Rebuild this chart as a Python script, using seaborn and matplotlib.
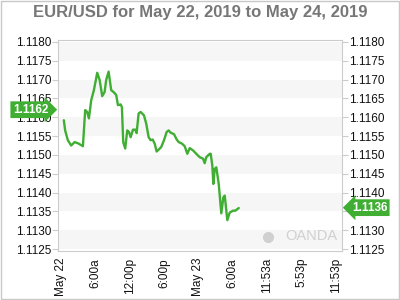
import matplotlib
matplotlib.use("Agg")
import matplotlib.pyplot as plt
import matplotlib.transforms as mtransforms
from matplotlib.patches import Rectangle
import seaborn as sns
import pandas as pd

# ---- data (hours since May 22 00:00, EUR/USD rate) ----
hours = [0.52, 0.75, 1.22, 1.80, 2.40, 2.97, 3.67, 3.85, 4.25, 4.60, 4.90, 5.30, 5.77,
         6.35, 6.77, 7.22, 7.64, 7.92, 8.34, 8.79, 9.27, 9.67, 9.97, 10.44, 10.66, 10.89,
         11.24, 11.59, 11.89, 12.19, 12.59, 12.99, 13.23, 13.58, 13.93, 14.51, 14.91, 15.33,
         15.68, 16.03, 16.38, 16.73, 17.08, 17.53, 18.01, 18.48, 18.83, 19.18, 19.76, 20.23,
         20.58, 21.15, 21.63, 22.08, 22.50, 23.08, 23.65, 24.25, 24.83, 25.12, 25.40, 26.00,
         26.17, 26.45, 26.63, 26.87, 27.15, 27.57, 28.02, 28.37, 28.62, 29.07, 29.49, 30.07,
         30.47, 31.07]
rates = [1.11592, 1.11565, 1.11539, 1.11525, 1.11534, 1.11531, 1.11525, 1.11523, 1.11619,
         1.11614, 1.11597, 1.11645, 1.11672, 1.11718, 1.11699, 1.11656, 1.11667, 1.11699,
         1.11721, 1.11672, 1.11666, 1.11659, 1.11632, 1.11634, 1.11627, 1.11534, 1.11517,
         1.11565, 1.11561, 1.11547, 1.11567, 1.11567, 1.11558, 1.11610, 1.11614, 1.11605,
         1.11583, 1.11547, 1.11539, 1.11541, 1.11530, 1.11509, 1.11514, 1.11521, 1.11539,
         1.11561, 1.11565, 1.11559, 1.11555, 1.11541, 1.11534, 1.11530, 1.11523, 1.11503,
         1.11518, 1.11512, 1.11503, 1.11494, 1.11490, 1.11478, 1.11494, 1.11503, 1.11503,
         1.11472, 1.11423, 1.11463, 1.11467, 1.11423, 1.11345, 1.11387, 1.11392, 1.11327,
         1.11347, 1.11352, 1.11352, 1.11359]

x_ticks = [0, 6, 12, 18, 24, 30, 36, 42, 48]
x_labels = ["May 22", "6:00a", "12:00p", "6:00p", "May 23", "6:00a", "11:53a", "5:53p", "11:53p"]
y_ticks = [1.1125, 1.1130, 1.1135, 1.1140, 1.1145, 1.1150, 1.1155, 1.1160, 1.1165,
           1.1170, 1.1175, 1.1180]
open_label = 1.1162
last_label = 1.1136
title = "EUR/USD for May 22, 2019 to May 24, 2019"

GREEN = "#3fae33"
GRID_GRAY = "#cccccc"
TEXT = "#111111"

sns.set_style("white")
plt.rcParams["font.family"] = ["Liberation Sans", "DejaVu Sans"]

fig = plt.figure(figsize=(4, 3), dpi=100)
ax = fig.add_axes([58 / 400, 1 - 251 / 300, 284 / 400, 211 / 300])

df = pd.DataFrame({"hour": hours, "rate": rates})

# alternating bands
for i in range(0, len(y_ticks) - 1, 2):
    ax.axhspan(y_ticks[i], y_ticks[i + 1], color="#f6f6f6", lw=0, zorder=0)

sns.lineplot(data=df, x="hour", y="rate", ax=ax, color=GREEN, lw=1.7, zorder=3)

ax.set_xlim(-0.5, 49.1)
ax.set_ylim(1.11245, 1.11805)
ax.set_xticks(x_ticks)
ax.set_xticklabels(x_labels, rotation=90, fontsize=8.5, color=TEXT)
ax.set_yticks(y_ticks)
ax.set_yticklabels([f"{v:.4f}" for v in y_ticks], fontsize=8.5, color=TEXT)
ax.tick_params(axis="y", which="both", left=True, right=True, labelleft=True,
               labelright=True, length=4, width=0.8, color=GRID_GRAY, pad=1)
ax.tick_params(axis="x", length=3, width=0.8, color=GRID_GRAY, pad=2)
ax.set_xlabel("")
ax.set_ylabel("")
for s in ax.spines.values():
    s.set_color(GRID_GRAY)
    s.set_linewidth(0.8)

# title
fig.text(0.5, 1 - 12 / 300, title, ha="center", va="center", fontsize=12,
         fontweight="bold", color="#777777")

# value labels
trans = mtransforms.blended_transform_factory(ax.transAxes, ax.transData)
ax.text(-0.097, open_label, f"{open_label:.4f}", transform=trans, ha="center", va="center",
        fontsize=8.5, fontweight="bold", color="white", zorder=5, clip_on=False,
        bbox=dict(boxstyle="rarrow,pad=0.2", fc=GREEN, ec="none"))
ax.text(1.097, last_label, f"{last_label:.4f}", transform=trans, ha="center", va="center",
        fontsize=8.5, fontweight="bold", color="white", zorder=5, clip_on=False,
        bbox=dict(boxstyle="larrow,pad=0.2", fc=GREEN, ec="none"))

# watermark
ax.text(0.985, 0.04, "OANDA", transform=ax.transAxes, ha="right", va="bottom",
        fontsize=10.5, color="#d0d0d0", zorder=1)
ax.plot([0.74], [0.067], marker="o", ms=7, color="#d0d0d0", transform=ax.transAxes,
        zorder=1, clip_on=False)

# figure border
fig.patches.append(Rectangle((0.0015, 0.002), 0.997, 0.996, transform=fig.transFigure,
                             fill=False, ec="#c8c8c8", lw=1))

fig.savefig("out.png", dpi=100)
